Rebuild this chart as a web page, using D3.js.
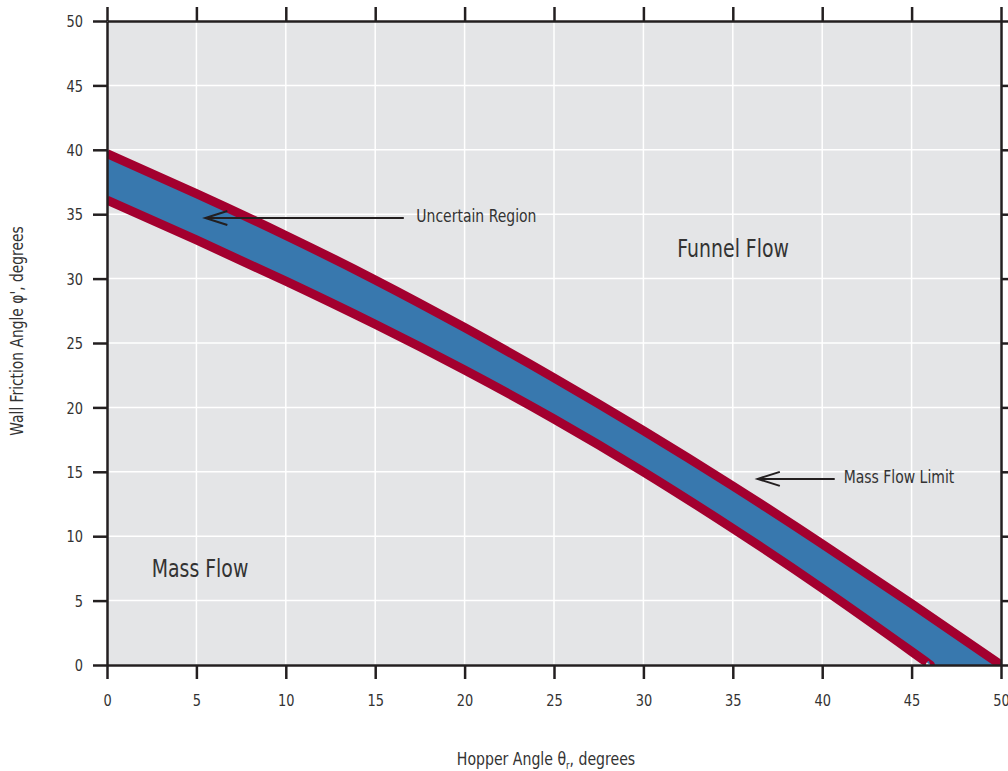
<!DOCTYPE html>
<html>
<head>
<meta charset="utf-8">
<script src="https://cdn.jsdelivr.net/npm/d3@7"></script>
<style>
  body { margin: 0; background: #fff; }
  text { font-family: "DejaVu Sans Condensed", "DejaVu Sans", sans-serif; fill: #333; }
</style>
</head>
<body>
<div id="main"></div>
<script>
// hopper angle (x) vs wall friction angle (y)
const upperX = [0, 5, 10, 15, 20, 25, 30, 35, 40, 45, 50];
const upperY = [39.7, 36.6, 33.35, 29.9, 26.2, 22.3, 18.2, 13.9, 9.4, 4.75, 0];
const lowerX = [0, 5, 10, 15, 20, 25, 30, 35, 40, 45, 46.05];
const lowerY = [36.1, 33.0, 29.8, 26.45, 22.9, 19.1, 15.0, 10.6, 5.95, 1.05, 0];
const tickValues = [0, 5, 10, 15, 20, 25, 30, 35, 40, 45, 50];

const arrowNotes = [
  {label: 'Uncertain Region', tip: [5.5, 34.7], tail: 16.6, textX: 17.3},
  {label: 'Mass Flow Limit', tip: [36.4, 14.45], tail: 40.7, textX: 41.2}
];
const regionNotes = [
  {label: 'Funnel Flow', x: 31.9, y: 31.7},
  {label: 'Mass Flow', x: 2.5, y: 6.85}
];

// the original font is narrow, squeeze the installed one sideways
const NARROW = 0.84;
const TICK_NARROW = 0.9;

class Chart {
  constructor(config) {
    this.config = config;
    this.svg = null;
    this.margins = null;
    this.xScale = null;
    this.yScale = null;
    this.createSvg();
    this.createMargins();
    this.createScales();
  }

  createSvg() {
    this.svg = d3.select(this.config.div)
      .append('svg')
      .attr('width', this.config.svgWidth)
      .attr('height', this.config.svgHeight);
  }

  createMargins() {
    this.margins = this.svg
      .append('g')
      .attr('transform', `translate(${this.config.left},${this.config.top})`);
  }

  createScales() {
    this.xScale = d3.scaleLinear().domain([0, 50]).range([0, this.config.width]);
    this.yScale = d3.scaleLinear().domain([0, 50]).range([this.config.height, 0]);
  }

  renderBackground() {
    let w = this.config.width, h = this.config.height;
    this.margins.append('rect')
      .attr('width', w).attr('height', h)
      .attr('fill', '#e4e5e7');

    this.margins.append('g')
      .selectAll('line')
      .data(tickValues)
      .join('line')
      .attr('x1', d => this.xScale(d)).attr('x2', d => this.xScale(d))
      .attr('y1', 0).attr('y2', h)
      .attr('stroke', '#fff').attr('stroke-width', 1.5);

    this.margins.append('g')
      .selectAll('line')
      .data(tickValues)
      .join('line')
      .attr('y1', d => this.yScale(d)).attr('y2', d => this.yScale(d))
      .attr('x1', 0).attr('x2', w)
      .attr('stroke', '#fff').attr('stroke-width', 1.5);

    this.svg.append('defs').append('clipPath').attr('id', 'plot-clip')
      .append('rect').attr('width', w).attr('height', h);
  }

  renderBand() {
    let upper = upperX.map((x, i) => [x, upperY[i]]);
    let lower = lowerX.map((x, i) => [x, lowerY[i]]);

    let line = d3.line()
      .x(d => this.xScale(d[0]))
      .y(d => this.yScale(d[1]))
      .curve(d3.curveNatural);

    let lowerBack = line(lower.slice().reverse());

    let g = this.margins.append('g').attr('clip-path', 'url(#plot-clip)');

    g.append('path')
      .attr('d', line(upper) + 'L' + lowerBack.slice(1) + 'Z')
      .attr('fill', '#3878ae');

    g.selectAll('.limit')
      .data([upper, lower])
      .join('path')
      .attr('class', 'limit')
      .attr('d', d => line(d))
      .attr('fill', 'none')
      .attr('stroke', '#a3002f')
      .attr('stroke-width', 9);
  }

  drawAxis(axis, transform, labels) {
    let g = this.margins.append('g')
      .attr('transform', transform)
      .call(axis.tickValues(tickValues).tickSize(14).tickSizeOuter(0)
        .tickFormat(labels ? d3.format('d') : ''));
    g.select('.domain').attr('stroke', '#231f20').attr('stroke-width', 2.5);
    g.selectAll('.tick line').attr('stroke', '#231f20').attr('stroke-width', 2.5);
    g.selectAll('.tick text')
      .attr('font-size', 16).attr('fill', '#333')
      .attr('font-family', null)
      .attr('x', null).attr('y', null);
    return g;
  }

  renderAxes() {
    let w = this.config.width, h = this.config.height;

    let bottom = this.drawAxis(d3.axisBottom(this.xScale), `translate(0,${h})`, true);
    bottom.selectAll('.tick text')
      .attr('dy', null)
      .attr('transform', `translate(0,41) scale(${TICK_NARROW},1)`);

    this.drawAxis(d3.axisTop(this.xScale), 'translate(0,0)', false);

    let left = this.drawAxis(d3.axisLeft(this.yScale), 'translate(0,0)', true);
    left.selectAll('.tick text')
      .attr('dy', '0.36em')
      .attr('transform', `translate(-24,0) scale(${TICK_NARROW},1)`);

    this.drawAxis(d3.axisRight(this.yScale), `translate(${w},0)`, false);
  }

  renderTitles() {
    let xt = this.svg.append('text')
      .attr('transform', `translate(${this.config.left + this.config.width / 2 - 8},765) scale(0.87,1)`)
      .attr('text-anchor', 'middle')
      .attr('font-size', 18);
    xt.append('tspan').text('Hopper Angle θ');
    xt.append('tspan').attr('font-size', 11).attr('dy', 4).text('r');
    xt.append('tspan').attr('dy', -4).text(', degrees');

    this.svg.append('text')
      .attr('transform', `translate(23,331) rotate(-90) scale(0.855,1)`)
      .attr('text-anchor', 'middle')
      .attr('font-size', 18)
      .text('Wall Friction Angle φ\', degrees');
  }

  renderNotes() {
    let g = this.margins.append('g');

    arrowNotes.forEach(n => {
      let tx = this.xScale(n.tip[0]), ty = this.yScale(n.tip[1]);
      g.append('line')
        .attr('x1', this.xScale(n.tail)).attr('x2', tx)
        .attr('y1', ty).attr('y2', ty)
        .attr('stroke', '#231f20').attr('stroke-width', 2);
      g.append('path')
        .attr('d', `M${tx + 22},${ty - 7}L${tx},${ty}L${tx + 22},${ty + 7}`)
        .attr('fill', 'none').attr('stroke', '#231f20').attr('stroke-width', 2);
      g.append('text')
        .attr('transform', `translate(${this.xScale(n.textX)},${ty + 4}) scale(${NARROW},1)`)
        .attr('font-size', 18.5)
        .text(n.label);
    });

    g.selectAll('.region')
      .data(regionNotes)
      .join('text')
      .attr('class', 'region')
      .attr('transform', d => `translate(${this.xScale(d.x)},${this.yScale(d.y)}) scale(${NARROW},1)`)
      .attr('font-size', 25)
      .text(d => d.label);
  }
}

function main() {
  let c = {div: '#main', svgWidth: 1008, svgHeight: 771, width: 894, height: 644, top: 21, left: 107};
  let chart = new Chart(c);
  chart.renderBackground();
  chart.renderBand();
  chart.renderAxes();
  chart.renderTitles();
  chart.renderNotes();
}

main();
</script>
</body>
</html>
